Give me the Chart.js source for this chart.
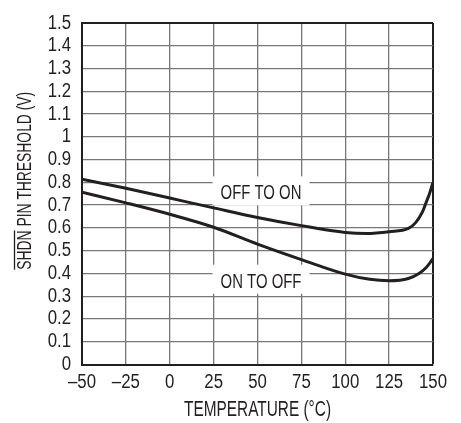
<!DOCTYPE html>
<html>
<head>
<meta charset="utf-8">
<script src="https://cdn.jsdelivr.net/npm/chart.js@4.4.1/dist/chart.umd.min.js"></script>
<style>
  html, body { margin: 0; padding: 0; background: #fff; }
  #wrap { width: 461px; height: 423px; position: relative; }
</style>
</head>
<body>
<div id="wrap"><canvas id="c"></canvas></div>
<script>
// temperature (°C) sample points
var offToOnTemp = [-50, -25, 0, 25, 50, 75, 100, 112, 125, 136, 140, 144, 146, 148, 150];
var offToOnVolt = [0.814, 0.774, 0.731, 0.688, 0.646, 0.61, 0.58, 0.575, 0.583, 0.598, 0.622, 0.67, 0.71, 0.75, 0.80];

var onToOffTemp = [-50, -25, 0, 25, 50, 75, 100, 114, 125, 136, 142, 146, 150];
var onToOffVolt = [0.757, 0.71, 0.66, 0.603, 0.529, 0.461, 0.397, 0.374, 0.368, 0.378, 0.40, 0.425, 0.465];

var xTicks = [-50, -25, 0, 25, 50, 75, 100, 125, 150];
var yTicks = [0, 0.1, 0.2, 0.3, 0.4, 0.5, 0.6, 0.7, 0.8, 0.9, 1, 1.1, 1.2, 1.3, 1.4, 1.5];

var curveNames = ['OFF TO ON', 'ON TO OFF'];
var xTitle = 'TEMPERATURE (°C)';
var yTitleBar = 'SHDN';
var yTitleRest = ' PIN THRESHOLD (V)';

// where the curve labels sit, in data units
var labelAt = [{ x: 52, y: 0.756 }, { x: 52, y: 0.368 }];

var FONT = '"Liberation Sans", Arial, sans-serif';
var INK = '#231f20';

/* no condensed face is installed, so squeeze the regular one sideways */
var rawFill = CanvasRenderingContext2D.prototype.fillText;
var squeezeFor = function (t) {
  if (t === xTitle) return 0.70;
  if (curveNames.indexOf(t) >= 0) return 0.71;
  if (t.indexOf('THRESHOLD') >= 0) return 0.66;
  return 0.84;
};

function pts(xs, ys) {
  return xs.map(function (x, i) { return { x: x, y: ys[i] }; });
}

function tickText(v) {
  return v < 0 ? '\u2013' + Math.abs(v) : String(v);
}

/* white boxes with the curve names, drawn over the grid */
var curveLabels = {
  id: 'curveLabels',
  beforeDatasetsDraw: function (chart) {
    var ctx = chart.ctx, xs = chart.scales.x, ys = chart.scales.y;
    ctx.save();
    ctx.font = '21px ' + FONT;
    ctx.textAlign = 'center';
    ctx.textBaseline = 'middle';
    curveNames.forEach(function (name, i) {
      var cx = xs.getPixelForValue(labelAt[i].x);
      var cy = ys.getPixelForValue(labelAt[i].y);
      var w = ctx.measureText(name).width * squeezeFor(name);
      ctx.fillStyle = '#fff';
      ctx.fillRect(cx - w / 2 - 8, cy - 16, w + 16, 29);
      ctx.fillStyle = INK;
      ctx.fillText(name, cx, cy + 1);
    });
    ctx.restore();
  }
};

/* rotated y title with the bar over SHDN */
var yTitle = {
  id: 'yTitle',
  afterDraw: function (chart) {
    var ctx = chart.ctx, a = chart.chartArea;
    var k = squeezeFor(yTitleRest);
    ctx.save();
    ctx.font = '21px ' + FONT;
    ctx.fillStyle = INK;
    ctx.strokeStyle = INK;
    ctx.translate(25.5, (a.top + a.bottom) / 2 - 13);
    ctx.rotate(-Math.PI / 2);
    var w1 = ctx.measureText(yTitleBar).width * k;
    var w = w1 + ctx.measureText(yTitleRest).width * k;
    ctx.textBaseline = 'middle';
    ctx.textAlign = 'left';
    ctx.fillText(yTitleBar + yTitleRest, -w / 2, 0);
    ctx.lineWidth = 1.3;
    ctx.beginPath();
    ctx.moveTo(-w / 2, -11);
    ctx.lineTo(-w / 2 + w1, -11);
    ctx.stroke();
    ctx.restore();
  }
};

var ctx = document.getElementById('c').getContext('2d');
ctx.fillText = function (t, x, y, mw) {
  var k = squeezeFor(String(t));
  this.save();
  this.translate(x, y);
  this.scale(k, 1);
  if (mw === undefined) rawFill.call(this, t, 0, 0);
  else rawFill.call(this, t, 0, 0, mw / k);
  this.restore();
};

var lineStyle = {
  borderColor: INK,
  borderWidth: 3,
  pointRadius: 0,
  fill: false,
  cubicInterpolationMode: 'monotone'
};

var gridColor = function (last) {
  return function (c) { return c.tick && c.tick.value === last ? INK : '#777'; };
};
var gridWidth = function (last) {
  return function (c) { return c.tick && c.tick.value === last ? 2 : 1.3; };
};

new Chart(ctx, {
  type: 'line',
  data: {
    datasets: [
      Object.assign({ label: curveNames[0], data: pts(offToOnTemp, offToOnVolt) }, lineStyle),
      Object.assign({ label: curveNames[1], data: pts(onToOffTemp, onToOffVolt) }, lineStyle)
    ]
  },
  options: {
    responsive: true,
    maintainAspectRatio: false,
    animation: false,
    layout: { padding: { left: 0, top: 4, right: 28, bottom: 0 } },
    plugins: {
      legend: { display: false },
      tooltip: { enabled: false }
    },
    scales: {
      x: {
        type: 'linear',
        min: -50,
        max: 150,
        afterBuildTicks: function (s) { s.ticks = xTicks.map(function (v) { return { value: v }; }); },
        afterFit: function (s) { s.height = 58.5; },
        ticks: {
          color: INK,
          font: { family: FONT, size: 20 },
          padding: 6,
          autoSkip: false,
          maxRotation: 0,
          callback: function (v) { return tickText(v); }
        },
        grid: { drawTicks: false, color: gridColor(150), lineWidth: gridWidth(150) },
        border: { color: INK, width: 2 },
        title: {
          display: true,
          text: xTitle,
          color: INK,
          font: { family: FONT, size: 22 },
          padding: { top: 0, bottom: 0 }
        }
      },
      y: {
        type: 'linear',
        min: 0,
        max: 1.5,
        afterBuildTicks: function (s) { s.ticks = yTicks.map(function (v) { return { value: v }; }); },
        afterFit: function (s) { s.width = 82; },
        ticks: {
          color: INK,
          font: { family: FONT, size: 20 },
          padding: 11,
          autoSkip: false,
          callback: function (v) { return String(Math.round(v * 10) / 10); }
        },
        grid: { drawTicks: false, color: gridColor(1.5), lineWidth: gridWidth(1.5) },
        border: { color: INK, width: 2 }
      }
    }
  },
  plugins: [curveLabels, yTitle]
});
</script>
</body>
</html>
